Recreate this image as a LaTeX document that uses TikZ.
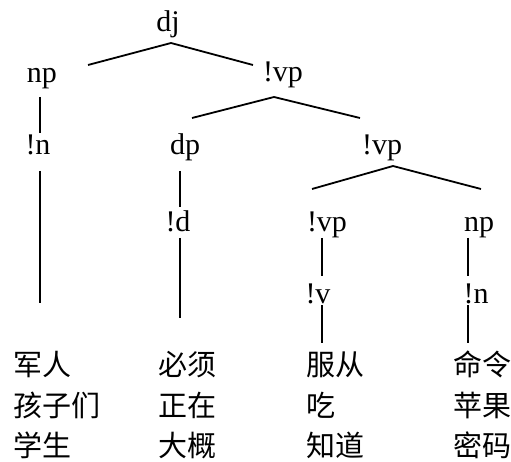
\documentclass[tikz,border=0pt]{standalone}
\usepackage{fontspec}
\setmainfont{Liberation Serif}
\newfontfamily\cjk{Noto Sans CJK SC}
\begin{document}
\begin{tikzpicture}[x=1pt,y=-1pt,
  lab/.style={anchor=base,inner sep=0pt,font=\fontsize{30}{36}\selectfont},
  word/.style={anchor=base west,inner sep=0pt,font=\cjk\fontsize{29}{34}\selectfont},
  edge/.style={line width=1.8pt}]
\useasboundingbox (0,0) rectangle (511,462);
% tree labels
\node[lab] (dj) at (168,32) {dj};
\node[lab] (np1) at (42,83) {np};
\node[lab] (vp1) at (283,82) {!vp};
\node[lab] (n1) at (38,155) {!n};
\node[lab] (dp) at (185,155) {dp};
\node[lab] (vp2) at (382,155) {!vp};
\node[lab] (d) at (178,232) {!d};
\node[lab] (vp3) at (327,232) {!vp};
\node[lab] (np2) at (479,232) {np};
\node[lab] (v) at (318,303) {!v};
\node[lab] (n2) at (476,303) {!n};
% words
\node[word] (w11) at (13,375) {军人};
\node[word] (w12) at (13,416) {孩子们};
\node[word] (w13) at (13,456) {学生};
\node[word] (w21) at (158,375) {必须};
\node[word] (w22) at (158,416) {正在};
\node[word] (w23) at (158,456) {大概};
\node[word] (w31) at (306,375) {服从};
\node[word] (w32) at (306,416) {吃};
\node[word] (w33) at (306,456) {知道};
\node[word] (w41) at (453,375) {命令};
\node[word] (w42) at (453,416) {苹果};
\node[word] (w43) at (453,456) {密码};
% connector end points
\coordinate (dj-s) at (171,43);
\coordinate (np1-n) at (88,65);
\coordinate (vp1-n) at (253,65);
\coordinate (np1-s) at (40,97);
\coordinate (n1-n) at (40,133);
\coordinate (vp1-s) at (274,97);
\coordinate (dp-n) at (192,118);
\coordinate (vp2-n) at (360,118);
\coordinate (n1-s) at (40,171);
\coordinate (n1-e) at (40,303);
\coordinate (dp-s) at (180,171);
\coordinate (d-n) at (180,207);
\coordinate (d-s) at (180,238);
\coordinate (d-e) at (180,318);
\coordinate (vp2-s) at (393,166);
\coordinate (vp3-n) at (312,189);
\coordinate (np2-n) at (481,189);
\coordinate (vp3-s) at (322,238);
\coordinate (v-n) at (322,276);
\coordinate (np2-s) at (468,238);
\coordinate (n2-n) at (468,276);
\coordinate (v-s) at (322,305);
\coordinate (v-e) at (322,343);
\coordinate (n2-s) at (468,305);
\coordinate (n2-e) at (468,343);
% connectors
\draw[edge] (np1-n) -- (dj-s) -- (vp1-n);
\draw[edge] (np1-s) -- (n1-n);
\draw[edge] (dp-n) -- (vp1-s) -- (vp2-n);
\draw[edge] (n1-s) -- (n1-e);
\draw[edge] (dp-s) -- (d-n);
\draw[edge] (d-s) -- (d-e);
\draw[edge] (vp3-n) -- (vp2-s) -- (np2-n);
\draw[edge] (vp3-s) -- (v-n);
\draw[edge] (np2-s) -- (n2-n);
\draw[edge] (v-s) -- (v-e);
\draw[edge] (n2-s) -- (n2-e);
\end{tikzpicture}
\end{document}
